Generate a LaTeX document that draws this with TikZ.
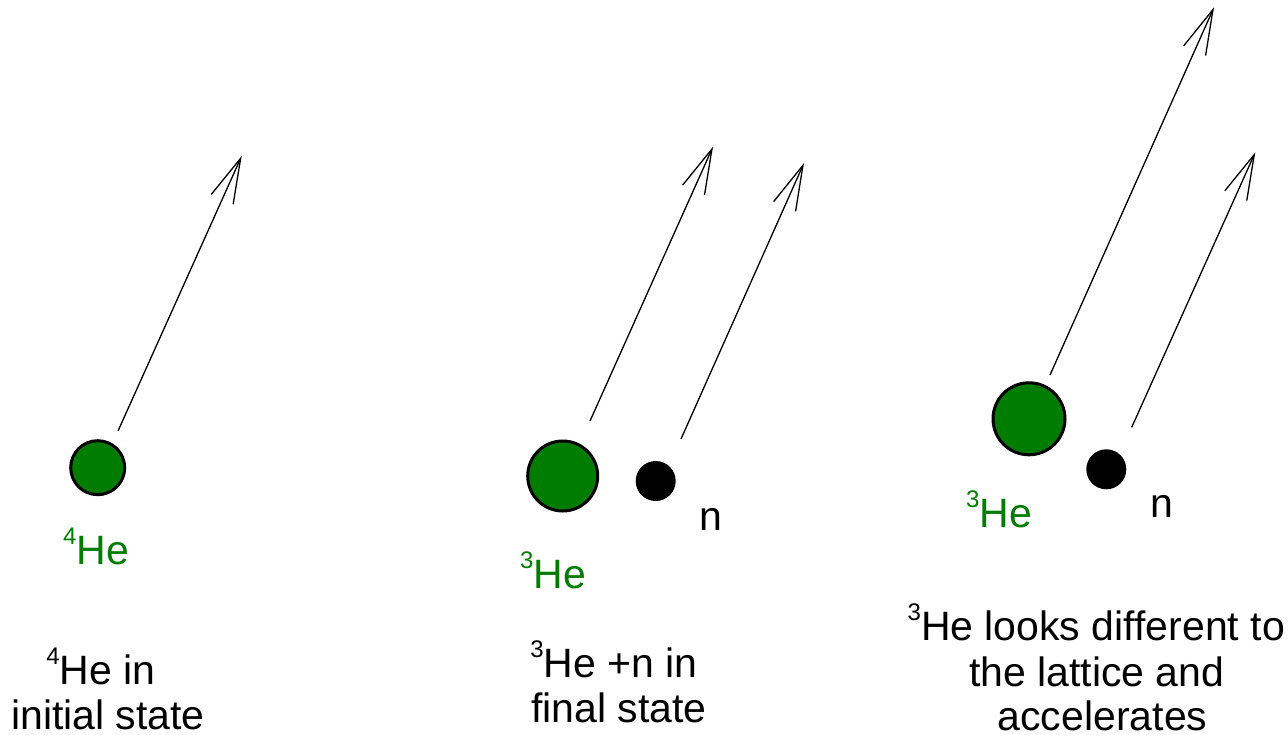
\documentclass[tikz,border=0pt]{standalone}
\usepackage{fontspec}
\setmainfont{Liberation Sans}
\usetikzlibrary{arrows.meta}
\definecolor{hegreen}{RGB}{0,125,0}
\newcommand\supx[1]{\raisebox{20pt}{\fontsize{24pt}{24pt}\selectfont #1}}
\begin{document}
\begin{tikzpicture}[x=1pt,y=-1pt,
  txt/.style={inner sep=0pt, anchor=base, font=\fontsize{41pt}{46pt}\selectfont},
  lowtxt/.style={txt, text depth=0pt},
  gtxt/.style={txt, text=hegreen},
  he/.style={circle, draw=black, line width=3pt, fill=hegreen, inner sep=0pt},
  neu/.style={circle, fill=black, inner sep=0pt},
  mom/.style={line width=1.3pt, -{Straight Barb[length=45pt,width=24pt,line width=1.3pt]}}]
\useasboundingbox (0,0) rectangle (1288,735);
% panel 1
\node[he, minimum size=54pt] (he4) at (97.7,467.7) {};
\coordinate (a1s) at (118,431);
\coordinate (a1e) at (241.7,156);
\draw[mom] (a1s) -- (a1e);
\node[gtxt] (l1) at (96,564) {\supx{4}He};
\node[txt] (c1a) at (101,684) {\supx{4}He in};
\node[lowtxt] (c1b) at (108,729) {initial state};
% panel 2
\node[he, minimum size=70pt] (he3a) at (562.7,476) {};
\node[neu, minimum size=40pt] (na) at (655.7,481) {};
\coordinate (a2s) at (590,421);
\coordinate (a2e) at (713,146.7);
\coordinate (a3s) at (681,439);
\coordinate (a3e) at (804,163);
\draw[mom] (a2s) -- (a2e);
\draw[mom] (a3s) -- (a3e);
\node[gtxt] (l2) at (553,588) {\supx{3}He};
\node[txt] (n2) at (711,530) {n};
\node[txt] (c2a) at (614,677) {\supx{3}He +n in};
\node[lowtxt] (c2b) at (619,722) {final state};
% panel 3
\node[he, minimum size=72pt] (he3b) at (1029,418.8) {};
\node[neu, minimum size=40pt] (nb) at (1106.3,469.3) {};
\coordinate (a4s) at (1050,375);
\coordinate (a4e) at (1214,7.3);
\coordinate (a5s) at (1131.7,427.3);
\coordinate (a5e) at (1255.3,152.3);
\draw[mom] (a4s) -- (a4e);
\draw[mom] (a5s) -- (a5e);
\node[gtxt] (l3) at (999,527) {\supx{3}He};
\node[txt] (n3) at (1162,517) {n};
\node[txt] (c3a) at (1096.3,640) {\supx{3}He looks different to};
\node[txt] (c3b) at (1096.7,686.7) {the lattice and};
\node[lowtxt] (c3c) at (1102.5,730.5) {accelerates};
\end{tikzpicture}
\end{document}
